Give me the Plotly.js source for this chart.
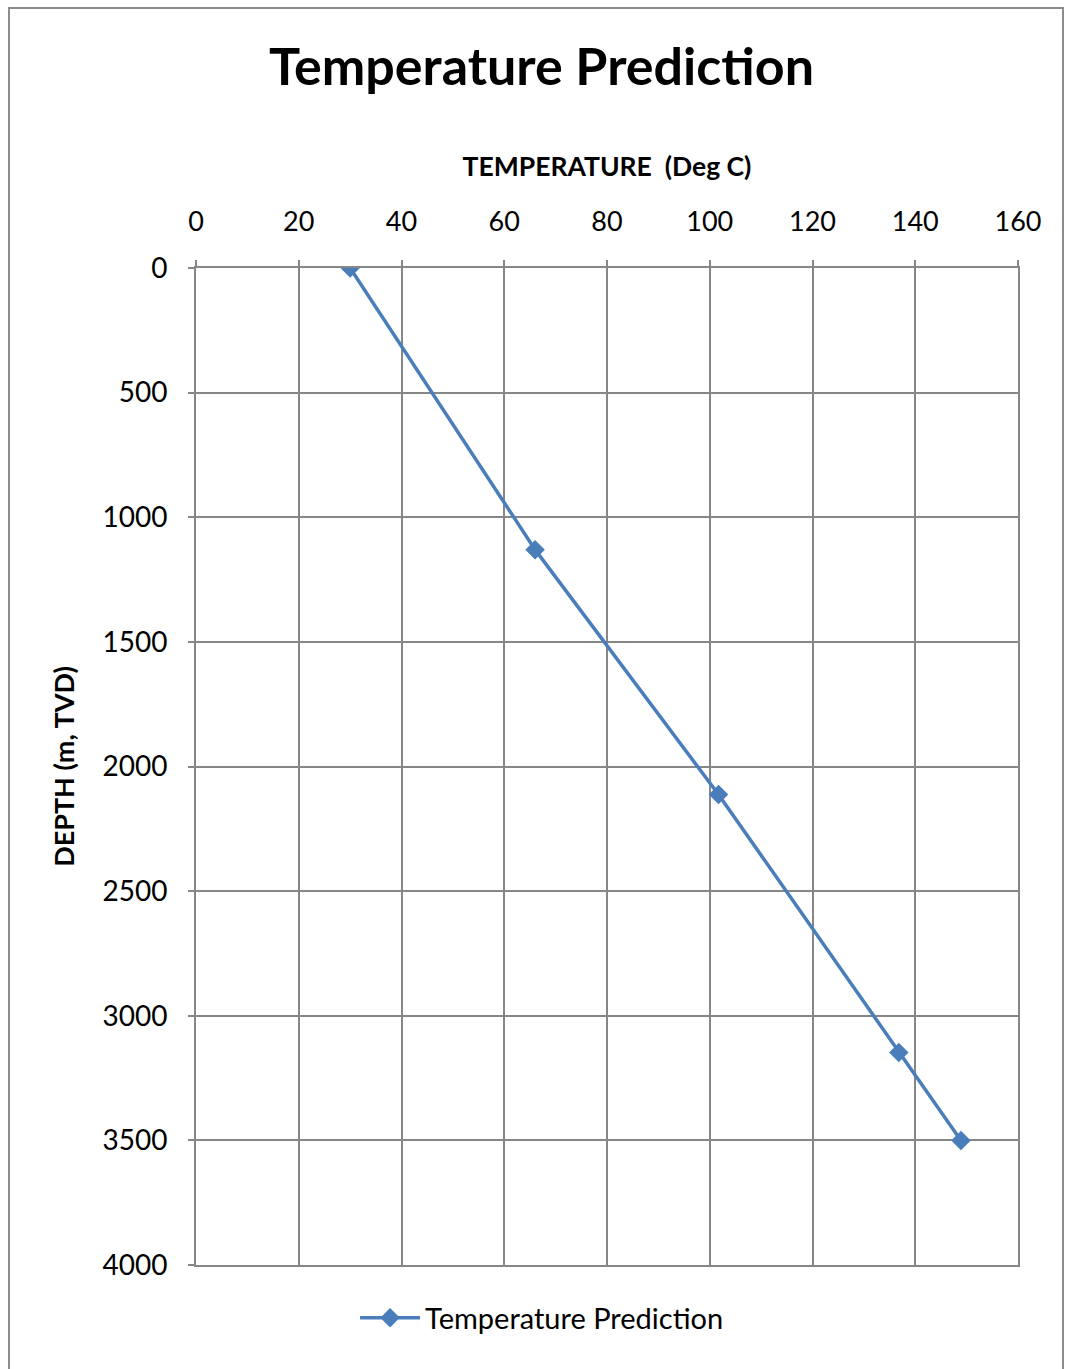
<!DOCTYPE html>
<html>
<head>
<meta charset="utf-8">
<script src="https://cdn.plot.ly/plotly-3.0.1.min.js"></script>
<style>
html,body{margin:0;padding:0;background:#fff;}
#frame{position:absolute;left:8px;top:7px;width:1056px;height:1380px;border:2px solid #8c8c8c;box-sizing:border-box;}
#chart{position:absolute;left:0;top:0;width:1066px;height:1369px;}
</style>
</head>
<body>
<div id="frame"></div>
<div id="chart"></div>
<script>
const seriesName = "Temperature Prediction";
const temperature = [30, 66, 101.7, 136.8, 148.9];
const depth = [0, 1130, 2112, 3147, 3500];
const xTicks = [0, 20, 40, 60, 80, 100, 120, 140, 160];
const yTicks = [0, 500, 1000, 1500, 2000, 2500, 3000, 3500, 4000];

const font = "Lato, 'Open Sans', sans-serif";
const gridColor = "#878787";

const trace = {
  x: temperature,
  y: depth,
  type: "scatter",
  mode: "lines+markers",
  name: seriesName,
  line: {color: "#4a7ebb", width: 3.5},
  marker: {symbol: "diamond", size: 15, color: "#4a7ebb"}
};

const layout = {
  width: 1066,
  height: 1369,
  paper_bgcolor: "rgba(0,0,0,0)",
  plot_bgcolor: "rgba(0,0,0,0)",
  margin: {l: 196, r: 48, t: 268, b: 104},
  font: {family: font, color: "#000"},
  title: {
    text: "<b>Temperature Prediction</b>",
    font: {family: font, size: 52, color: "#000"},
    x: 0.508, xanchor: "center",
    y: 0.951, yanchor: "middle"
  },
  showlegend: true,
  legend: {
    orientation: "h",
    x: 0.421, xanchor: "center",
    y: -0.053, yanchor: "middle",
    font: {family: font, size: 29},
    itemwidth: 60
  },
  xaxis: {
    side: "top",
    range: [0, 160],
    tickvals: xTicks,
    ticktext: xTicks.map(String),
    showgrid: true,
    gridcolor: gridColor,
    gridwidth: 2,
    showline: true,
    linecolor: gridColor,
    linewidth: 2,
    mirror: true,
    ticks: "outside",
    ticklen: 6,
    tickwidth: 2,
    tickcolor: gridColor,
    ticklabelstandoff: 18,
    tickfont: {family: font, size: 27},
    zeroline: false,
    title: {
      text: "<b>TEMPERATURE  (Deg C)</b>",
      font: {family: font, size: 26.5},
      standoff: 20
    }
  },
  yaxis: {
    range: [4000, 0],
    tickvals: yTicks,
    ticktext: yTicks.map(String),
    showgrid: true,
    gridcolor: gridColor,
    gridwidth: 2,
    showline: true,
    linecolor: gridColor,
    linewidth: 2,
    mirror: true,
    ticks: "outside",
    ticklen: 6,
    tickwidth: 2,
    tickcolor: gridColor,
    ticklabelstandoff: 15,
    tickfont: {family: font, size: 28},
    zeroline: false,
    title: {
      text: "<b>DEPTH (m, TVD)</b>",
      font: {family: font, size: 27},
      standoff: 20
    }
  }
};

Plotly.newPlot("chart", [trace], layout, {displayModeBar: false, staticPlot: true});
</script>
</body>
</html>
